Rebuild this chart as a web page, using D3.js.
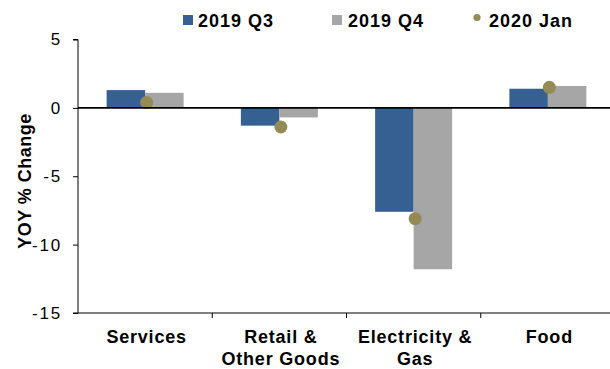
<!DOCTYPE html>
<html>
<head>
<meta charset="utf-8">
<script src="https://cdn.jsdelivr.net/npm/d3@7"></script>
<style>
body{margin:0;background:#fff;}
svg{display:block;font-family:"Liberation Sans",Arial,sans-serif;}
</style>
</head>
<body>
<svg></svg>
<script>
const categories = [["Services"], ["Retail &", "Other Goods"], ["Electricity &", "Gas"], ["Food"]];
const q3 = [1.3, -1.3, -7.6, 1.4];
const q4 = [1.1, -0.7, -11.8, 1.6];
const jan = [0.4, -1.4, -8.1, 1.5];
const yTicks = [5, 0, -5, -10, -15];
const seriesNames = ["2019 Q3", "2019 Q4", "2020 Jan"];

const width = 610, height = 369;
const plotLeft = 78, plotRight = 615, plotTop = 39.5, plotBottom = 313;
const colQ3 = '#376092', colQ4 = '#a6a6a6', colJan = '#948a54';

var svg = d3.select('svg').attr('width', width).attr('height', height);

var x = d3.scaleBand().domain(d3.range(categories.length)).range([plotLeft, plotRight]).paddingInner(0).paddingOuter(0);
var y = d3.scaleLinear().domain([-15, 5]).range([plotBottom, plotTop]);
var barW = 38.5;

// bars
var groups = svg.append('g').selectAll('g').data(categories).enter().append('g');
groups.append('rect')
	.attr('x', (d,i) => x(i) + x.bandwidth()/2 - barW)
	.attr('y', (d,i) => y(Math.max(0, q3[i])))
	.attr('width', barW)
	.attr('height', (d,i) => Math.abs(y(q3[i]) - y(0)))
	.style('fill', colQ3);
groups.append('rect')
	.attr('x', (d,i) => x(i) + x.bandwidth()/2)
	.attr('y', (d,i) => y(Math.max(0, q4[i])))
	.attr('width', barW)
	.attr('height', (d,i) => Math.abs(y(q4[i]) - y(0)))
	.style('fill', colQ4);

// zero line
svg.append('line')
	.attr('x1', plotLeft).attr('x2', width)
	.attr('y1', y(0)).attr('y2', y(0))
	.style('stroke', '#000').style('stroke-width', 1.6);

// dots
groups.append('circle')
	.attr('cx', (d,i) => x(i) + x.bandwidth()/2 + 1.5)
	.attr('cy', (d,i) => y(jan[i]))
	.attr('r', 6.5)
	.style('fill', colJan);

// y axis
var yAxis = svg.append('g').attr('transform', 'translate(' + plotLeft + ',0)')
	.call(d3.axisLeft(y).tickValues(yTicks).tickSize(5).tickPadding(11).tickFormat(d3.format('d')));
yAxis.select('.domain').attr('d', 'M-5,' + plotTop + 'H0V' + plotBottom + 'H-5').style('stroke', '#000');
yAxis.selectAll('.tick line').style('stroke', '#000');
yAxis.selectAll('text').style('font-size', '17px').style('fill', '#000')
	.style('letter-spacing', '1.8px')
	.text(d => d < 0 ? '-' + Math.abs(d) : d);

// x axis at bottom
svg.append('line').attr('x1', plotLeft).attr('x2', width).attr('y1', plotBottom).attr('y2', plotBottom).style('stroke', '#000');
svg.append('g').selectAll('line').data(d3.range(1, categories.length)).enter().append('line')
	.attr('x1', d => x(d)).attr('x2', d => x(d))
	.attr('y1', plotBottom).attr('y2', plotBottom + 5)
	.style('stroke', '#000');

svg.append('g').selectAll('text').data(categories).enter().append('text')
	.attr('text-anchor', 'middle')
	.attr('x', (d,i) => x(i) + x.bandwidth()/2 + 1.5)
	.attr('y', 343)
	.style('font-size', '18px').style('font-weight', 'bold').style('letter-spacing', '0.8px')
	.each(function(d){
		var cx = d3.select(this).attr('x');
		d3.select(this).selectAll('tspan').data(d).enter().append('tspan')
			.attr('x', cx)
			.attr('dy', (t,j) => j ? 22 : 0)
			.text(t => t);
	});

// y title
svg.append('text')
	.attr('transform', 'translate(31,181) rotate(-90)')
	.attr('text-anchor', 'middle')
	.style('font-size', '18px').style('font-weight', 'bold').style('letter-spacing', '0.5px')
	.text('YOY % Change');

// legend
var legend = svg.append('g');
legend.append('rect').attr('x', 183).attr('y', 15).attr('width', 10).attr('height', 10).style('fill', colQ3);
legend.append('text').attr('x', 198).attr('y', 27).text(seriesNames[0]);
legend.append('rect').attr('x', 332).attr('y', 15).attr('width', 10).attr('height', 10).style('fill', colQ4);
legend.append('text').attr('x', 348).attr('y', 27).text(seriesNames[1]);
legend.append('circle').attr('cx', 477).attr('cy', 17.5).attr('r', 3.6).style('fill', colJan);
legend.append('text').attr('x', 489).attr('y', 27).text(seriesNames[2]);
legend.selectAll('text').style('font-size', '18px').style('font-weight', 'bold').style('letter-spacing', '1px');
</script>
</body>
</html>
